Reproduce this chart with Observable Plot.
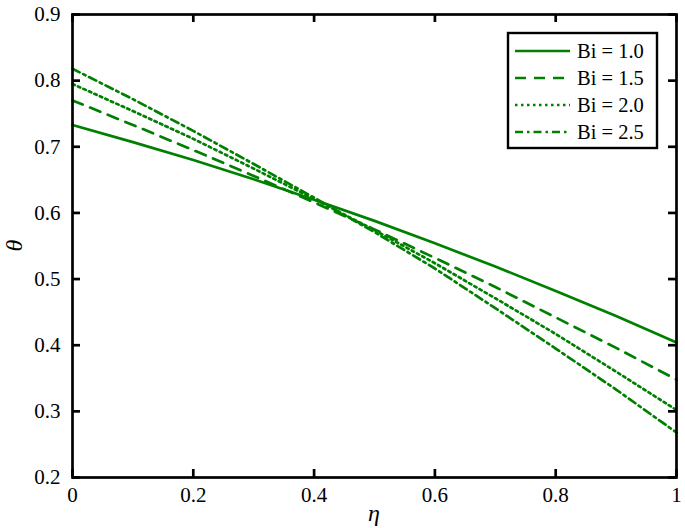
<!DOCTYPE html>
<html>
<head>
<meta charset="utf-8">
<script src="https://cdn.jsdelivr.net/npm/d3@7"></script>
<script src="https://cdn.jsdelivr.net/npm/@observablehq/plot@0.6"></script>
<style>
  html, body { margin: 0; padding: 0; background: #fff; }
  #chart svg { display: block; }
  #chart svg text { font-family: "Liberation Serif", "Times New Roman", Times, serif !important; }
</style>
</head>
<body>
<div id="chart"></div>
<script>
// η values
const eta = [0, 0.1, 0.2, 0.3, 0.4, 0.5, 0.6, 0.7, 0.8, 0.9, 1.0];
// θ for each Biot number
const theta_Bi10 = [0.733, 0.707, 0.680, 0.651, 0.620, 0.588, 0.554, 0.519, 0.482, 0.444, 0.404];
const theta_Bi15 = [0.770, 0.733, 0.695, 0.656, 0.616, 0.575, 0.532, 0.488, 0.442, 0.396, 0.348];
const theta_Bi20 = [0.795, 0.754, 0.712, 0.667, 0.621, 0.574, 0.524, 0.471, 0.417, 0.360, 0.302];
const theta_Bi25 = [0.818, 0.772, 0.724, 0.674, 0.623, 0.571, 0.516, 0.456, 0.395, 0.333, 0.268];
const seriesLabels = ["Bi = 1.0", "Bi = 1.5", "Bi = 2.0", "Bi = 2.5"];
const xTicks = [0, 0.2, 0.4, 0.6, 0.8, 1];
const xTickLabels = ["0", "0.2", "0.4", "0.6", "0.8", "1"];
const yTicks = [0.2, 0.3, 0.4, 0.5, 0.6, 0.7, 0.8, 0.9];
const yTickLabels = ["0.2", "0.3", "0.4", "0.5", "0.6", "0.7", "0.8", "0.9"];

// styles
const green = "#008000";
const dashStyles = [null, "11,8", "2.5,3.5", "8,4,2.5,4"];

const allSeries = [theta_Bi10, theta_Bi15, theta_Bi20, theta_Bi25];
const rows = allSeries.map((vals, i) => eta.map((x, j) => ({x, y: vals[j], s: seriesLabels[i]})));

const fontFam = '"Liberation Serif", "Times New Roman", Times, serif';
const W = 685, H = 528;
const mL = 72, mR = 9, mT = 14, mB = 51;
const innerW = W - mL - mR, innerH = H - mT - mB;
const tickLen = 8;
const tickColor = "black";

const xFmt = d => xTickLabels[xTicks.indexOf(d)];
const yFmt = d => yTickLabels[yTicks.findIndex(t => Math.abs(t - d) < 1e-9)];

const plot = Plot.plot({
  width: W,
  height: H,
  marginLeft: mL,
  marginRight: mR,
  marginTop: mT,
  marginBottom: mB,
  style: {fontFamily: fontFam, fontSize: "21px", color: "black", background: "white"},
  x: {domain: [0, 1]},
  y: {domain: [0.2, 0.9]},
  marks: [
    ...rows.map((r, i) => Plot.line(r, {
      x: "x", y: "y", stroke: green, strokeWidth: 2.7,
      strokeDasharray: dashStyles[i] ?? undefined
    })),
    Plot.axisX(xTicks, {anchor: "bottom", tickSize: 0, tickPadding: 10, tickFormat: xFmt, label: null, fontSize: 21}),
    Plot.axisY(yTicks, {anchor: "left", tickSize: 0, tickPadding: 12, tickFormat: yFmt, label: null, fontSize: 21}),
    Plot.frame({stroke: "black", strokeWidth: 2.7}),
    // inward ticks on all four sides
    Plot.ruleX(xTicks, {x: d => d, insetTop: innerH - tickLen, stroke: tickColor, strokeWidth: 2.7}),
    Plot.ruleX(xTicks, {x: d => d, insetBottom: innerH - tickLen, stroke: tickColor, strokeWidth: 2.7}),
    Plot.ruleY(yTicks, {y: d => d, insetRight: innerW - tickLen, stroke: tickColor, strokeWidth: 2.7}),
    Plot.ruleY(yTicks, {y: d => d, insetLeft: innerW - tickLen, stroke: tickColor, strokeWidth: 2.7})
  ]
});

document.getElementById("chart").appendChild(plot);

const sx = plot.scale("x"), sy = plot.scale("y");
const svg = d3.select(plot);
const yTop = sy.apply(0.9), yBot = sy.apply(0.2), xL = sx.apply(0), xR = sx.apply(1);

// axis titles
svg.append("text")
  .attr("x", (xL + xR) / 2)
  .attr("y", 521)
  .attr("text-anchor", "middle")
  .attr("font-style", "italic")
  .attr("font-size", 24)
  .text("η");
svg.append("text")
  .attr("transform", `translate(22, ${(yTop + yBot) / 2}) rotate(-90)`)
  .attr("text-anchor", "middle")
  .attr("font-style", "italic")
  .attr("font-size", 24)
  .text("θ");

// legend
const lg = svg.append("g");
lg.append("rect")
  .attr("x", 508).attr("y", 33).attr("width", 149).attr("height", 115)
  .attr("fill", "white").attr("stroke", "black").attr("stroke-width", 2.4);
seriesLabels.forEach((lab, i) => {
  const cy = 51 + i * 27;
  const ln = lg.append("line")
    .attr("x1", 515).attr("x2", 570).attr("y1", cy).attr("y2", cy)
    .attr("stroke", green).attr("stroke-width", 2.7);
  if (dashStyles[i]) ln.attr("stroke-dasharray", dashStyles[i]);
  lg.append("text")
    .attr("x", 577).attr("y", cy).attr("dy", "0.35em")
    .attr("text-anchor", "start")
    .attr("font-size", 20.5)
    .text(lab);
});
</script>
</body>
</html>
